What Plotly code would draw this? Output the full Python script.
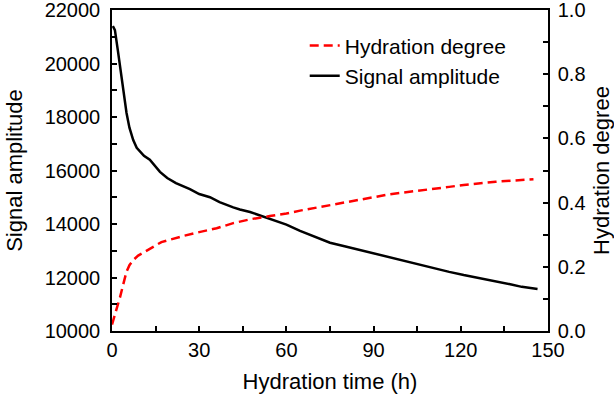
import plotly.graph_objects as go

# Signal amplitude (left axis)
sig_t = [0.3, 1, 2, 2.75, 4, 5, 6, 7.3, 8.5, 9.6, 11, 13, 15, 16.5, 19, 22, 26.8, 30, 33.7, 37,
         41.7, 44, 47.5, 51, 54.3, 60, 64.7, 70, 75, 80, 85.3, 90, 95.6, 100, 106, 111, 116,
         121, 126.6, 132, 137, 141, 143.8, 146.4]
sig_v = [21400, 21250, 20500, 19870, 18900, 18150, 17600, 17140, 16850, 16700, 16550, 16400,
         16150, 15950, 15720, 15530, 15300, 15120, 15000, 14820, 14620, 14540, 14450, 14320,
         14220, 13980, 13740, 13500, 13300, 13170, 13030, 12900, 12730, 12620, 12470, 12330,
         12210, 12090, 11980, 11850, 11750, 11650, 11620, 11570]

# Hydration degree (right axis)
hyd_t = [0, 1, 2, 2.75, 4, 5, 6, 7.3, 9, 11.3, 13, 17, 20, 24.5, 30, 36, 41.7, 47.5, 54.3, 60,
         64.7, 70, 75, 80, 85.3, 90, 95.6, 100, 106, 111, 116, 121, 126.6, 132, 137, 141, 145]
hyd_v = [0.02, 0.05, 0.085, 0.105, 0.15, 0.185, 0.205, 0.221, 0.235, 0.246, 0.256, 0.277,
         0.285, 0.296, 0.308, 0.32, 0.336, 0.348, 0.358, 0.366, 0.375, 0.384, 0.392, 0.40,
         0.408, 0.416, 0.426, 0.431, 0.437, 0.443, 0.449, 0.455, 0.461, 0.465, 0.468, 0.471,
         0.473]

FONT = "Arial, Liberation Sans, sans-serif"

fig = go.Figure()
fig.add_trace(go.Scatter(x=hyd_t, y=hyd_v, yaxis="y2", mode="lines", name="Hydration degree",
                         line=dict(color="#ff0000", width=2.5, dash="9px,5px")))
fig.add_trace(go.Scatter(x=sig_t, y=sig_v, mode="lines", name="Signal amplitude",
                         line=dict(color="black", width=2.5)))

axis_common = dict(showline=True, linecolor="black", linewidth=1.5, ticks="inside",
                   ticklen=5, tickwidth=1.5, tickcolor="black", showgrid=False, zeroline=False,
                   automargin=False, ticklabeloverflow="allow",
                   tickfont=dict(family=FONT, size=20, color="black"))

fig.update_layout(
    width=614, height=397,
    margin=dict(l=112, r=66, t=10, b=66),
    paper_bgcolor="white", plot_bgcolor="white",
    font=dict(family=FONT, color="black"),
    xaxis=dict(range=[0, 150], dtick=30, mirror=True,
               minor=dict(dtick=15, ticks="inside", ticklen=5, tickwidth=1.5, tickcolor="black"),
               title=dict(text="Hydration time (h)", font=dict(size=22), standoff=14),
               ticklabelstandoff=0, **axis_common),
    yaxis=dict(range=[10000, 22000], dtick=2000, tickformat="d",
               minor=dict(dtick=1000, ticks="inside", ticklen=5, tickwidth=1.5, tickcolor="black"),
               title=dict(text="Signal amplitude", font=dict(size=22), standoff=16),
               ticklabelstandoff=6, **axis_common),
    yaxis2=dict(range=[0, 1], dtick=0.2, tickformat=".1f", overlaying="y", side="right",
                minor=dict(dtick=0.1, ticks="inside", ticklen=5, tickwidth=1.5, tickcolor="black"),
                title=dict(text="Hydration degree", font=dict(size=22), standoff=9),
                ticklabelstandoff=4, **axis_common),
    legend=dict(x=0.442, y=0.952, xanchor="left", yanchor="top", bgcolor="rgba(0,0,0,0)",
                font=dict(family=FONT, size=21, color="black")),
    showlegend=True,
)

fig.write_html("out.html", config={"displayModeBar": False},
               post_script="document.body.style.margin='0';")
